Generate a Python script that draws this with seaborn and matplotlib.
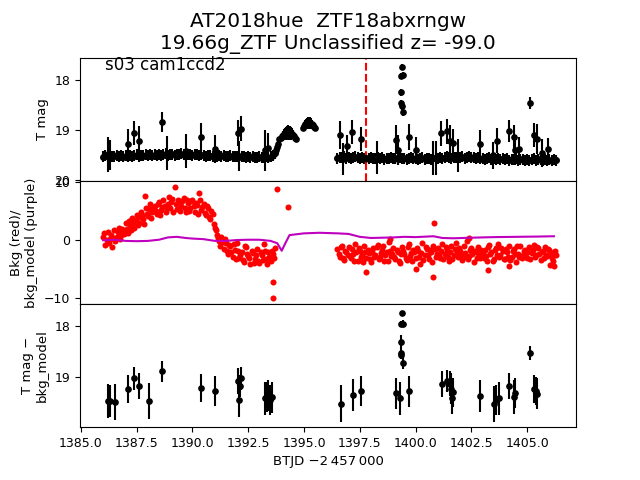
import matplotlib
matplotlib.use("Agg")
import matplotlib.pyplot as plt
import seaborn as sns

# cadence times of the two orbits (BTJD - 2457000)
seg1_t = [1386.0, 1386.1, 1386.2, 1386.3, 1386.4, 1386.5, 1386.6, 1386.7, 1386.8, 1386.9,
          1387.0, 1387.1, 1387.2, 1387.3, 1387.4, 1387.5, 1387.6, 1387.7, 1387.8, 1387.9,
          1388.0, 1388.1, 1388.2, 1388.3, 1388.4, 1388.5, 1388.6, 1388.7, 1388.8, 1388.9,
          1389.0, 1389.1, 1389.2, 1389.3, 1389.4, 1389.5, 1389.6, 1389.7, 1389.8, 1389.9,
          1390.0, 1390.1, 1390.2, 1390.3, 1390.4, 1390.5, 1390.6, 1390.7, 1390.8, 1390.9,
          1391.0, 1391.1, 1391.2, 1391.3, 1391.4, 1391.5, 1391.6, 1391.7, 1391.8, 1391.9,
          1392.0, 1392.1, 1392.2, 1392.3, 1392.4, 1392.5, 1392.6, 1392.7, 1392.8, 1392.9,
          1393.0, 1393.1, 1393.2, 1393.3, 1393.4, 1393.5, 1393.6, 1393.7]
seg2_t = [1396.5, 1396.6, 1396.7, 1396.8, 1396.9,
          1397.0, 1397.1, 1397.2, 1397.3, 1397.4, 1397.5, 1397.6, 1397.7, 1397.8, 1397.9,
          1398.0, 1398.1, 1398.2, 1398.3, 1398.4, 1398.5, 1398.6, 1398.7, 1398.8, 1398.9,
          1399.0, 1399.1, 1399.2, 1399.3, 1399.4, 1399.5, 1399.6, 1399.7, 1399.8, 1399.9,
          1400.0, 1400.1, 1400.2, 1400.3, 1400.4, 1400.5, 1400.6, 1400.7, 1400.8, 1400.9,
          1401.0, 1401.1, 1401.2, 1401.3, 1401.4, 1401.5, 1401.6, 1401.7, 1401.8, 1401.9,
          1402.0, 1402.1, 1402.2, 1402.3, 1402.4, 1402.5, 1402.6, 1402.7, 1402.8, 1402.9,
          1403.0, 1403.1, 1403.2, 1403.3, 1403.4, 1403.5, 1403.6, 1403.7, 1403.8, 1403.9,
          1404.0, 1404.1, 1404.2, 1404.3, 1404.4, 1404.5, 1404.6, 1404.7, 1404.8, 1404.9,
          1405.0, 1405.1, 1405.2, 1405.3, 1405.4, 1405.5, 1405.6, 1405.7, 1405.8, 1405.9,
          1406.0, 1406.1, 1406.2, 1406.3]
# in-between cadences (background only)
seg1b_t = [1386.05, 1386.15, 1386.25, 1386.35, 1386.45, 1386.55, 1386.65, 1386.75, 1386.85, 1386.95,
           1387.05, 1387.15, 1387.25, 1387.35, 1387.45, 1387.55, 1387.65, 1387.75, 1387.85, 1387.95,
           1388.05, 1388.15, 1388.25, 1388.35, 1388.45, 1388.55, 1388.65, 1388.75, 1388.85, 1388.95,
           1389.05, 1389.15, 1389.25, 1389.35, 1389.45, 1389.55, 1389.65, 1389.75, 1389.85, 1389.95,
           1390.05, 1390.15, 1390.25, 1390.35, 1390.45, 1390.55, 1390.65, 1390.75, 1390.85, 1390.95,
           1391.05, 1391.15, 1391.25, 1391.35, 1391.45, 1391.55, 1391.65, 1391.75, 1391.85, 1391.95,
           1392.05, 1392.15, 1392.25, 1392.35, 1392.45, 1392.55, 1392.65, 1392.75, 1392.85, 1392.95,
           1393.05, 1393.15, 1393.25, 1393.35, 1393.45, 1393.55, 1393.65]
seg2b_t = [1396.55, 1396.65, 1396.75, 1396.85, 1396.95,
           1397.05, 1397.15, 1397.25, 1397.35, 1397.45, 1397.55, 1397.65, 1397.75, 1397.85, 1397.95,
           1398.05, 1398.15, 1398.25, 1398.35, 1398.45, 1398.55, 1398.65, 1398.75, 1398.85, 1398.95,
           1399.05, 1399.15, 1399.25, 1399.35, 1399.45, 1399.55, 1399.65, 1399.75, 1399.85, 1399.95,
           1400.05, 1400.15, 1400.25, 1400.35, 1400.45, 1400.55, 1400.65, 1400.75, 1400.85, 1400.95,
           1401.05, 1401.15, 1401.25, 1401.35, 1401.45, 1401.55, 1401.65, 1401.75, 1401.85, 1401.95,
           1402.05, 1402.15, 1402.25, 1402.35, 1402.45, 1402.55, 1402.65, 1402.75, 1402.85, 1402.95,
           1403.05, 1403.15, 1403.25, 1403.35, 1403.45, 1403.55, 1403.65, 1403.75, 1403.85, 1403.95,
           1404.05, 1404.15, 1404.25, 1404.35, 1404.45, 1404.55, 1404.65, 1404.75, 1404.85, 1404.95,
           1405.05, 1405.15, 1405.25, 1405.35, 1405.45, 1405.55, 1405.65, 1405.75, 1405.85, 1405.95,
           1406.05, 1406.15, 1406.25]

# T mag of the quiescent light curve
band1_mag = [19.53, 19.51, 19.52, 19.50, 19.53, 19.52, 19.50, 19.52, 19.51, 19.53,
             19.51, 19.52, 19.50, 19.52, 19.51, 19.49, 19.52, 19.50, 19.51, 19.49,
             19.50, 19.48, 19.51, 19.49, 19.50, 19.48, 19.50, 19.49, 19.47, 19.50,
             19.49, 19.48, 19.50, 19.48, 19.49, 19.47, 19.49, 19.50, 19.48, 19.49,
             19.50, 19.48, 19.49, 19.51, 19.49, 19.50, 19.52, 19.50, 19.51, 19.52,
             19.51, 19.53, 19.51, 19.52, 19.50, 19.53, 19.52, 19.51, 19.53, 19.52,
             19.52, 19.54, 19.52, 19.53, 19.55, 19.53, 19.54, 19.52, 19.55, 19.54,
             19.53, 19.55, 19.54, 19.52, 19.55, 19.53, 19.50, 19.46]
band2_mag = [19.56, 19.54, 19.55, 19.53, 19.56,
             19.54, 19.56, 19.55, 19.53, 19.55, 19.57, 19.54, 19.56, 19.55, 19.57,
             19.55, 19.57, 19.56, 19.54, 19.57, 19.55, 19.58, 19.56, 19.57, 19.55,
             19.57, 19.56, 19.58, 19.55, 19.57, 19.56, 19.58, 19.57, 19.55, 19.57,
             19.56, 19.58, 19.57, 19.55, 19.58, 19.56, 19.57, 19.58, 19.56, 19.55,
             19.56, 19.54, 19.56, 19.55, 19.53, 19.55, 19.56, 19.54, 19.55, 19.53,
             19.55, 19.53, 19.56, 19.54, 19.52, 19.55, 19.54, 19.56, 19.55, 19.57,
             19.56, 19.58, 19.57, 19.55, 19.58, 19.57, 19.59, 19.56, 19.58, 19.57,
             19.59, 19.57, 19.60, 19.58, 19.59, 19.57, 19.60, 19.58, 19.59, 19.60,
             19.58, 19.60, 19.59, 19.57, 19.60, 19.58, 19.59, 19.61, 19.58, 19.60,
             19.59, 19.61, 19.58, 19.60]
band_err = 0.11

# brightening around 1394-1395.5 (high background)
rise_t = [1393.75, 1393.80, 1393.85, 1393.90, 1393.95, 1394.00, 1394.05, 1394.10, 1394.15, 1394.20,
          1394.25, 1394.30, 1394.35, 1394.40, 1394.45, 1394.50, 1394.55, 1394.60, 1394.65,
          1394.95, 1395.00, 1395.05, 1395.10, 1395.15, 1395.20, 1395.25, 1395.30, 1395.35,
          1395.40, 1395.45, 1395.50]
rise_mag = [19.40, 19.34, 19.28, 19.17, 19.15, 19.12, 19.10, 19.08, 19.07, 19.06,
            19.05, 19.05, 19.05, 19.06, 19.07, 19.09, 19.12, 19.15, 19.17,
            18.95, 18.91, 18.88, 18.87, 18.86, 18.86, 18.86, 18.87, 18.88,
            18.90, 18.93, 18.95]
rise_err = [0.05, 0.06, 0.06, 0.03, 0.05, 0.07, 0.09, 0.11, 0.12, 0.13,
            0.14, 0.15, 0.14, 0.13, 0.11, 0.09, 0.07, 0.05, 0.03,
            0.03, 0.06, 0.08, 0.10, 0.11, 0.12, 0.12, 0.11, 0.09,
            0.07, 0.05, 0.03]

# brighter single epochs on the raw light curve
top_t = [1386.20, 1386.30, 1387.12, 1387.37, 1387.61, 1388.64, 1388.84, 1389.69, 1390.37, 1391.01,
         1392.03, 1392.10, 1392.18, 1393.27, 1393.40, 1396.63, 1396.75, 1396.94, 1397.17, 1397.54,
         1398.27, 1399.11, 1399.20, 1399.38, 1399.43, 1399.36, 1399.33, 1399.34, 1399.38, 1399.42,
         1399.69, 1400.02, 1400.77, 1400.92, 1401.15, 1401.42, 1401.53, 1401.66, 1401.90, 1402.87,
         1403.46, 1403.67, 1404.17, 1404.39, 1404.45, 1404.63, 1405.15, 1405.29, 1405.43, 1405.67,
         1405.92]
top_mag = [19.48, 19.50, 19.28, 19.06, 19.21, 18.83, 19.46, 19.42, 19.14, 19.37,
           19.06, 19.52, 18.97, 19.40, 19.35, 19.09, 19.57, 19.31, 19.03, 19.18,
           19.55, 19.19, 19.40, 17.73, 17.89, 17.92, 18.24, 18.46, 18.52, 18.63,
           19.14, 19.40, 19.55, 19.55, 19.06, 19.02, 19.22, 19.26, 19.50, 19.27,
           19.50, 19.21, 19.01, 19.14, 19.40, 19.37, 18.45, 19.09, 19.18, 19.45,
           19.37]
top_err = [0.35, 0.30, 0.30, 0.24, 0.30, 0.20, 0.34, 0.34, 0.28, 0.28,
           0.26, 0.30, 0.25, 0.41, 0.30, 0.28, 0.32, 0.22, 0.24, 0.24,
           0.33, 0.29, 0.30, 0.05, 0.06, 0.06, 0.07, 0.07, 0.07, 0.08,
           0.26, 0.27, 0.34, 0.34, 0.25, 0.25, 0.32, 0.28, 0.33, 0.27,
           0.27, 0.25, 0.22, 0.25, 0.30, 0.24, 0.12, 0.24, 0.30, 0.28,
           0.22]

# background (red) per cadence
bkg1 = [0.5, -0.8, 1.5, 0.2, -1.2, 1.8, 0.6, 2.2, 0.9, 1.6,
        3.0, 1.2, 2.6, 3.8, 2.1, 4.4, 3.0, 4.9, 3.6, 5.6,
        4.2, 6.2, 4.8, 5.9, 4.5, 6.6, 5.2, 7.0, 4.9, 6.3,
        5.6, 7.2, 9.2, 5.4, 6.8, 5.9, 7.3, 4.9, 6.4, 5.5,
        7.0, 4.8, 6.1, 8.1, 5.2, 6.3, 4.4, 5.5, 3.6, 4.5,
        2.2, 1.0, -0.2, 0.6, -1.5, -0.5, -2.3, -1.0, -2.8, -1.6,
        -0.4, -3.0, -2.0, -3.8, -1.2, -2.7, -4.0, -2.2, -3.3, -1.5,
        -3.9, -2.6, -0.6, -3.2, -2.0, -3.6, -2.4, -1.4]
bkg2 = [-1.5, -2.8, -0.9, -3.4, -2.0,
        -1.2, -3.0, -2.3, -0.6, -3.6, -1.8, -2.6, -1.0, -3.1, -2.2,
        -3.8, -1.4, -2.5, -0.8, -2.9, -1.7, -3.5, -2.1, -0.3, -2.7,
        -1.3, -3.2, -2.0, -3.9, -1.1, -2.4, -3.4, -0.7, -2.2, -1.6,
        -3.0, -1.9, -4.0, -0.4, -2.6, -1.5, -3.3, -2.0, -0.9, -2.8,
        -1.4, -3.1, -0.6, -2.3, -1.7, -3.6, -1.0, -2.5, -0.5, -2.9,
        -1.8, -3.4, -2.2, -0.2, -2.7, -1.3, -3.8, -2.0, -1.1, -3.0,
        -2.4, -1.6, -3.5, -0.8, -2.1, -3.2, -1.4, -0.6, -2.6, -1.9,
        -3.3, -2.0, -1.0, -2.8, -1.5, -3.7, -2.3, -0.9, -2.5, -1.7,
        -3.0, -1.2, -2.2, -0.8, -2.6, -1.4, -3.4, -1.9, -1.1, -2.7,
        -1.6, -3.1, -2.0, -2.6]
bkg1b = [1.2, 0.1, -0.5, 1.0, 0.4, -0.2, 1.4, 0.3, 2.0, 1.1,
         2.0, 3.3, 1.8, 2.9, 3.5, 2.6, 4.0, 4.3, 2.8, 4.6,
         5.4, 3.9, 5.6, 5.1, 6.2, 4.4, 5.8, 6.0, 5.5, 7.4,
         6.6, 4.9, 6.2, 7.0, 5.1, 6.8, 5.6, 6.9, 5.0, 6.7,
         5.9, 6.5, 4.5, 6.9, 5.8, 4.7, 5.9, 4.0, 5.0, 2.8,
         1.8, 0.4, -0.9, -0.3, 0.2, -1.8, -0.8, -2.0, -0.6, -3.2,
         -1.9, -2.5, -3.4, -1.0, -2.4, -3.1, -1.8, -3.9, -2.5, -3.5,
         -2.1, -3.4, -1.9, -4.1, -2.8, -1.9, -3.0]
bkg2b = [-2.3, -1.1, -3.0, -1.8, -2.6,
         -2.7, -1.5, -3.5, -2.0, -1.3, -2.9, -3.8, -2.1, -1.6, -3.3,
         -2.0, -2.9, -1.1, -3.3, -2.2, -0.9, -2.6, -3.6, -1.8, -2.4,
         -2.8, -1.6, -3.6, -2.4, -1.8, -3.1, -1.2, -2.7, -3.5, -2.0,
         -1.4, -2.9, -2.2, -3.4, -1.2, -2.5, -1.7, -3.7, -1.5, -2.3,
         -2.6, -1.9, -3.3, -1.2, -2.8, -2.1, -3.2, -1.5, -2.2, -1.4,
         -2.6, -1.0, -2.9, -3.3, -1.6, -2.4, -1.9, -3.0, -2.5, -1.7,
         -3.1, -2.7, -1.1, -2.3, -3.6, -1.7, -2.5, -2.9, -1.3, -3.2,
         -1.5, -2.8, -3.4, -1.9, -2.4, -1.0, -2.9, -3.1, -1.8, -2.2,
         -2.0, -3.2, -1.6, -2.8, -1.2, -2.4, -2.0, -3.0, -2.5, -1.5,
         -2.3, -3.5, -1.8]
bkg_out_t = [1393.62, 1393.62, 1393.79, 1394.28, 1397.76, 1398.87, 1400.03, 1400.80,
             1400.82, 1402.38, 1403.24, 1404.18, 1406.02, 1406.22, 1387.87]
bkg_out_v = [-7.2, -10.0, 8.8, 5.7, -5.5, 0.3, -5.0, -6.3,
             2.9, 0.45, -5.2, -4.4, -4.2, -4.4, 7.6]

# background model (purple)
model_t = [1386.0, 1386.5, 1387.0, 1387.5, 1388.0, 1388.5, 1388.9, 1389.3, 1389.7, 1390.0,
           1390.5, 1391.0, 1391.5, 1392.0, 1392.5, 1393.0, 1393.5, 1393.8, 1394.0, 1394.15,
           1394.35, 1395.0, 1395.7, 1396.5, 1397.0, 1397.5, 1398.0, 1398.5, 1399.0, 1399.5,
           1400.0, 1400.8, 1401.2, 1401.7, 1402.5, 1403.5, 1404.5, 1405.5, 1406.2]
model_v = [0.0, 0.1, -0.1, -0.15, -0.1, 0.1, 0.5, 0.6, 0.4, 0.3,
           0.2, -0.1, -0.1, 0.05, 0.1, 0.1, -0.1, -0.5, -1.8, -0.6,
           0.9, 1.2, 1.3, 1.2, 1.1, 0.6, 0.4, 0.45, 0.5, 0.6,
           0.55, 0.7, 0.4, 0.35, 0.45, 0.55, 0.6, 0.65, 0.7]

# T mag - bkg_model, detections only
bot_t = [1386.22, 1386.29, 1386.52, 1387.12, 1387.37, 1387.61, 1388.06, 1388.64, 1390.37, 1391.01,
         1392.03, 1392.09, 1392.12, 1392.18, 1393.27, 1393.35, 1393.40, 1393.47, 1393.58, 1396.64,
         1397.19, 1397.55, 1399.11, 1399.29, 1399.38, 1399.43, 1399.36, 1399.33, 1399.33, 1399.36,
         1399.43, 1399.69, 1401.18, 1401.42, 1401.53, 1401.60, 1401.63, 1401.68, 1402.87, 1403.53,
         1403.62, 1403.72, 1404.17, 1404.39, 1404.45, 1405.15, 1405.29, 1405.38, 1405.43]
bot_mag = [19.46, 19.46, 19.48, 19.23, 19.02, 19.17, 19.46, 18.88, 19.20, 19.27,
           19.07, 19.44, 19.17, 19.02, 19.41, 19.38, 19.35, 19.44, 19.39, 19.51,
           19.35, 19.27, 19.31, 19.41, 17.75, 17.95, 17.96, 18.31, 18.52, 18.57,
           18.71, 19.27, 19.13, 19.07, 19.12, 19.22, 19.41, 19.29, 19.36, 19.52,
           19.44, 19.41, 19.17, 19.38, 19.31, 18.53, 19.23, 19.26, 19.32]
bot_err = [0.33, 0.32, 0.35, 0.27, 0.23, 0.26, 0.35, 0.20, 0.27, 0.29,
           0.25, 0.33, 0.22, 0.23, 0.32, 0.29, 0.30, 0.30, 0.31, 0.36,
           0.31, 0.29, 0.30, 0.33, 0.05, 0.06, 0.06, 0.13, 0.08, 0.08,
           0.12, 0.30, 0.25, 0.22, 0.25, 0.30, 0.30, 0.28, 0.31, 0.35,
           0.30, 0.33, 0.26, 0.33, 0.29, 0.14, 0.27, 0.27, 0.30]

t_disc = 1397.79

plt.rcParams['xtick.labelsize'] = 9
plt.rcParams['ytick.labelsize'] = 9
plt.rcParams['axes.labelsize'] = 9.5

fig, (ax1, ax2, ax3) = plt.subplots(3, 1, sharex=True, figsize=(6.4, 4.8), dpi=100)
fig.subplots_adjust(hspace=0)

# top: raw light curve
ax1.errorbar(seg1_t + seg2_t, band1_mag + band2_mag, yerr=band_err, fmt='o', color='k', ms=4)
ax1.errorbar(rise_t, rise_mag, yerr=rise_err, fmt='o', color='k', ms=3.8)
ax1.errorbar(top_t, top_mag, yerr=top_err, fmt='o', color='k', ms=3.8)
ax1.axvline(t_disc, color='r', ls='--', lw=1.5)
ax1.set_ylim(20.01, 17.55)
ax1.set_yticks([18, 19, 20])
ax1.set_ylabel('T mag')
ax1.text(0.05, 0.9, 's03 cam1ccd2', transform=ax1.transAxes, fontsize=12)
ax1.set_title('AT2018hue  ZTF18abxrngw\n19.66g_ZTF Unclassified z= -99.0', fontsize=14.4)

# middle: background and model
bkg_t = seg1_t + seg2_t + seg1b_t + seg2b_t + bkg_out_t
bkg_v = bkg1 + bkg2 + bkg1b + bkg2b + bkg_out_v
sns.scatterplot(x=bkg_t, y=bkg_v, color='red', s=19, linewidth=0, ax=ax2)
sns.lineplot(x=model_t, y=model_v, color='m', lw=1.5, sort=False, estimator=None, ax=ax2)
ax2.set_ylim(-10.98, 10.26)
ax2.set_yticks([-10, 0, 10])
ax2.set_ylabel('Bkg (red)/\nbkg_model (purple)')

# bottom: background-subtracted detections
ax3.errorbar(bot_t, bot_mag, yerr=bot_err, fmt='o', color='k', ms=3.8)
ax3.set_ylim(19.97, 17.57)
ax3.set_yticks([18, 19])
ax3.set_ylabel('T mag \u2212\nbkg_model')
ax3.set_xlim(1384.96, 1407.19)
ax3.set_xticks([1385.0, 1387.5, 1390.0, 1392.5, 1395.0, 1397.5, 1400.0, 1402.5, 1405.0])
ax3.set_xlabel('BTJD \u22122\u2009457\u2009000')

fig.savefig('out.png', dpi=100)
